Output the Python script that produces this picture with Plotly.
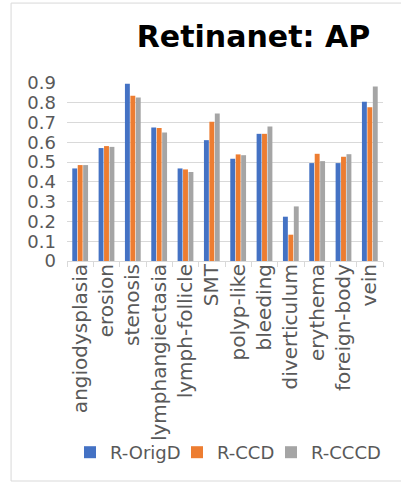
import plotly.graph_objects as go

categories = ["angiodysplasia", "erosion", "stenosis", "lymphangiectasia", "lymph-follicle",
              "SMT", "polyp-like", "bleeding", "diverticulum", "erythema", "foreign-body", "vein"]
r_origd = [0.468, 0.571, 0.896, 0.675, 0.468, 0.611, 0.517, 0.643, 0.224, 0.495, 0.495, 0.805]
r_ccd   = [0.485, 0.581, 0.835, 0.673, 0.463, 0.704, 0.539, 0.643, 0.133, 0.542, 0.527, 0.778]
r_cccd  = [0.485, 0.577, 0.827, 0.650, 0.450, 0.746, 0.535, 0.680, 0.276, 0.505, 0.540, 0.882]
y_ticks = [0, 0.1, 0.2, 0.3, 0.4, 0.5, 0.6, 0.7, 0.8, 0.9]
y_tick_text = ["0", "0.1", "0.2", "0.3", "0.4", "0.5", "0.6", "0.7", "0.8", "0.9"]

series_names = ["R-OrigD", "R-CCD", "R-CCCD"]
series_values = [r_origd, r_ccd, r_cccd]
series_colors = ["#4472C4", "#ED7D31", "#A5A5A5"]
legend_ids = ["legend", "legend2", "legend3"]
legend_left_px = [70, 177, 271]

FONT = "DejaVu Sans"
fig = go.Figure()
for name, vals, col, lid in zip(series_names, series_values, series_colors, legend_ids):
    fig.add_trace(go.Bar(x=categories, y=vals, name=name, legend=lid,
                         marker=dict(color=col, line=dict(width=0))))

legend_layouts = {}
for lid, lx in zip(legend_ids, legend_left_px):
    legend_layouts[lid] = dict(orientation="h", xref="container", yref="container",
                               x=lx / 401, xanchor="left", y=1 - 452.5 / 485, yanchor="middle",
                               bgcolor="rgba(0,0,0,0)", borderwidth=0,
                               font=dict(family=FONT, size=18, color="#595959"), itemwidth=30)

fig.update_layout(
    width=401, height=485,
    margin=dict(l=67, r=18, t=83, b=224, autoexpand=False),
    paper_bgcolor="white", plot_bgcolor="white",
    barmode="group", bargap=0.38, bargroupgap=0.1,
    font=dict(family=FONT, size=18, color="#595959"),
    title=dict(text="<b>Retinanet: AP</b>", font=dict(family=FONT, size=30, color="black"),
               x=0.59, xref="paper", xanchor="center", y=1 - 36 / 485, yref="container", yanchor="middle"),
    showlegend=True,
    xaxis=dict(type="category", tickangle=-90, tickson="boundaries", ticks="outside", ticklen=5,
               tickcolor="#D9D9D9", showline=True, linecolor="#D9D9D9", linewidth=1,
               showgrid=False, ticklabelstandoff=-6, automargin=False,
               tickfont=dict(family=FONT, size=20, color="#595959")),
    yaxis=dict(range=[0, 0.9], tickvals=y_ticks, ticktext=y_tick_text, showgrid=True,
               gridcolor="#D9D9D9", gridwidth=1, zeroline=False, showline=False, ticks="",
               ticklabelstandoff=10, automargin=False, tickfont=dict(family=FONT, size=18, color="#595959")),
    **legend_layouts,
)
fig.add_shape(type="rect", xref="paper", yref="paper", x0=-0.177, x1=1.066, y0=-1.236, y1=1.449,
              line=dict(color="#D9D9D9", width=1), fillcolor="rgba(0,0,0,0)", layer="below")
fig.write_html("out.html")
